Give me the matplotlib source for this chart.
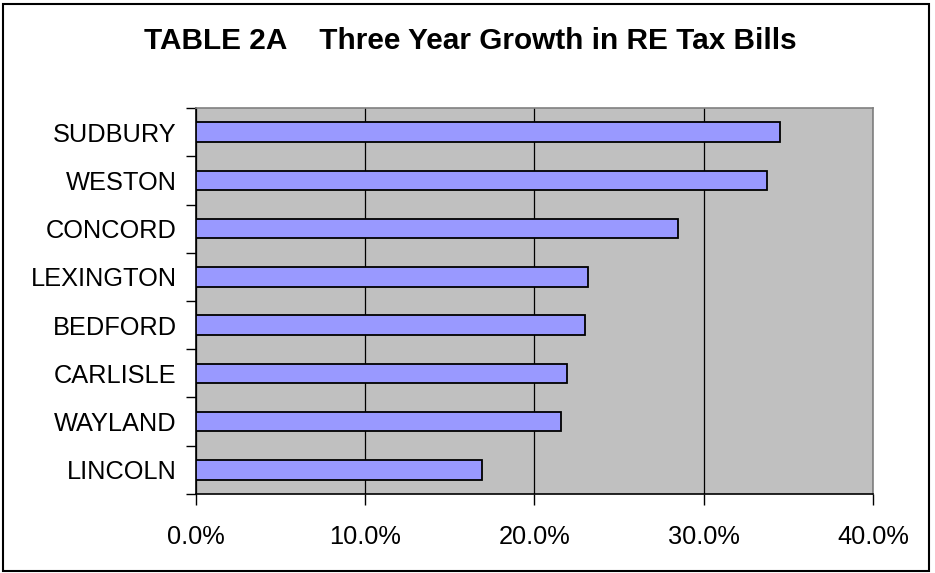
import numpy as np
from matplotlib import pyplot as plt
from matplotlib.patches import Rectangle
from matplotlib.ticker import FixedLocator, PercentFormatter

# Data (top to bottom as shown)
TOWNS = ['SUDBURY', 'WESTON', 'CONCORD', 'LEXINGTON', 'BEDFORD', 'CARLISLE', 'WAYLAND', 'LINCOLN']
GROWTH = [34.5, 33.75, 28.5, 23.15, 23.0, 21.95, 21.55, 16.9]
X_TICKS = [0, 10, 20, 30, 40]

plt.rcParams['font.family'] = ['Liberation Sans', 'DejaVu Sans']

fig = plt.figure(figsize=(9.35, 5.73), dpi=100)
ax = fig.add_axes([0.2096, 0.1379, 0.7241, 0.6736])

# outer chart border
fig.patches.append(Rectangle((0.0035, 0.004), 0.9905, 0.989, transform=fig.transFigure,
                             fill=False, edgecolor='black', linewidth=1.5))

ax.set_facecolor('#C0C0C0')
n = len(TOWNS)
ypos = np.arange(n)[::-1]
ax.barh(ypos, GROWTH, height=0.4, color='#9999FF', edgecolor='black', linewidth=1.3, zorder=3)

ax.set_xlim(0, 40)
ax.set_ylim(-0.5, n - 0.5)
ax.xaxis.set_major_locator(FixedLocator(X_TICKS))
ax.xaxis.set_major_formatter(PercentFormatter(decimals=1))
ax.grid(axis='x', color='black', linewidth=0.9, zorder=1)

# category boundaries get the ticks, labels sit in the middle
ax.yaxis.set_major_locator(FixedLocator(np.arange(n + 1) - 0.5))
ax.yaxis.set_major_formatter(plt.NullFormatter())
ax.yaxis.set_minor_locator(FixedLocator(ypos))
ax.set_yticks(ypos, TOWNS, minor=True)
ax.tick_params(axis='y', which='major', direction='out', length=7, width=1, color='black')
ax.tick_params(axis='y', which='minor', length=0, pad=14, labelsize=18.3)
ax.tick_params(axis='x', direction='out', length=8, width=1, pad=14, labelsize=18.3)

for side in ['left', 'bottom']:
    ax.spines[side].set_color('black')
    ax.spines[side].set_linewidth(1.2)
for side in ['top', 'right']:
    ax.spines[side].set_color('#808080')
    ax.spines[side].set_linewidth(1.2)

fig.text(0.503, 0.929, 'TABLE 2A    Three Year Growth in RE Tax Bills', ha='center', va='center',
         fontsize=21.4, fontweight='bold')

fig.savefig('out.png', dpi=100)
